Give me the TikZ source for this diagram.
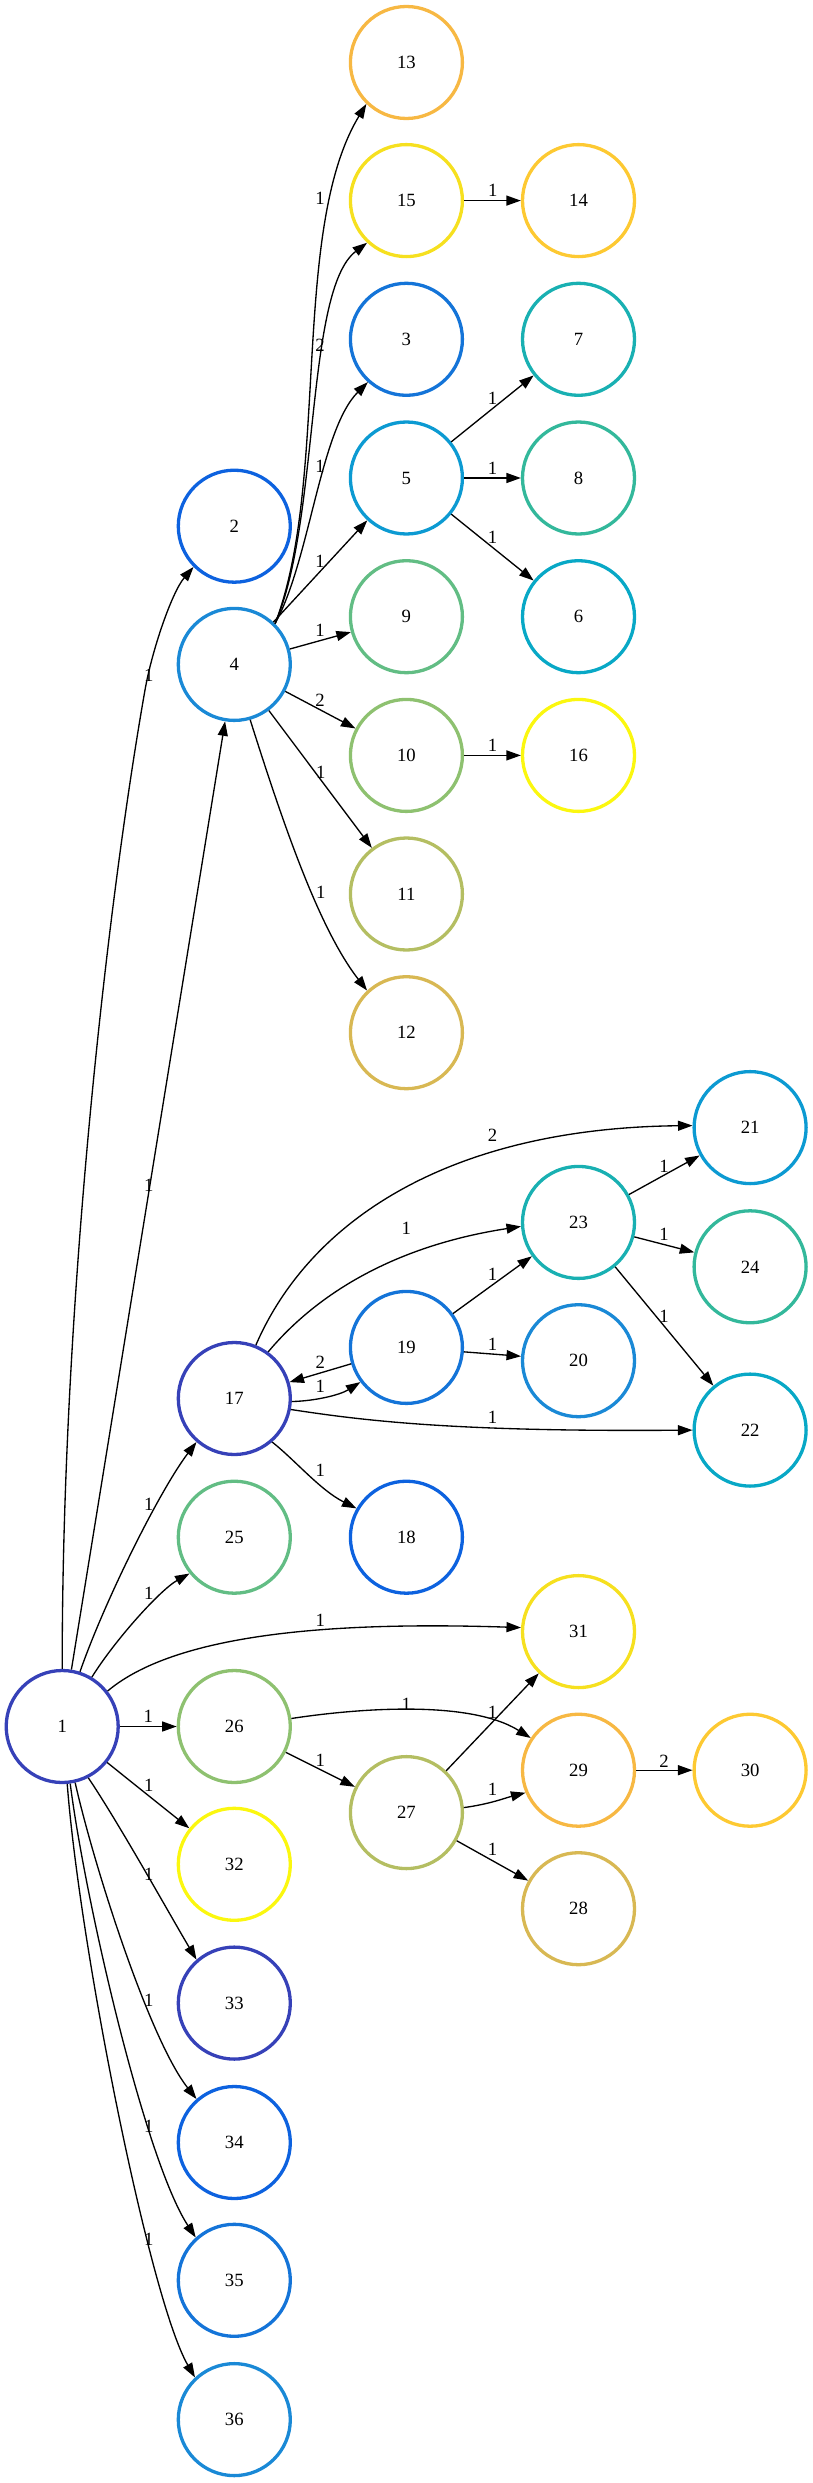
\documentclass[tikz,border=0pt]{standalone}
\usepackage{fontspec}
\setmainfont{Liberation Serif}
\usetikzlibrary{arrows.meta}

\begin{document}
\begin{tikzpicture}[x=1pt, y=-1pt,
    vertex/.style={circle, draw, line width=3.3pt, minimum size=112pt, inner sep=0pt, font=\fontsize{18.7}{20}\selectfont},
    edgeArrow/.style={line width=1.33pt, -{Triangle[length=14.5pt,width=10pt]}},
    edgeLabel/.style={inner sep=0pt, font=\fontsize{18.7}{20}\selectfont},
  ]

    % Colors
    \definecolor{c1}{HTML}{3641B8}
    \definecolor{c2}{HTML}{0D62DF}
    \definecolor{c3}{HTML}{1474D8}
    \definecolor{c4}{HTML}{1A89D6}
    \definecolor{c5}{HTML}{0C9AD2}
    \definecolor{c6}{HTML}{08A8C6}
    \definecolor{c7}{HTML}{19B0B2}
    \definecolor{c8}{HTML}{33B89B}
    \definecolor{c9}{HTML}{62BD84}
    \definecolor{c10}{HTML}{8EC170}
    \definecolor{c11}{HTML}{B4BE62}
    \definecolor{c12}{HTML}{D8B853}
    \definecolor{c13}{HTML}{F7B843}
    \definecolor{c14}{HTML}{FDC932}
    \definecolor{c15}{HTML}{F6E01F}
    \definecolor{c16}{HTML}{FBF70F}

    \useasboundingbox (0,0) rectangle (813,2483);

    %draw the vertices
    \node[vertex, draw=c1]  (n1)  at (62.2,1726.5) {1};
    \node[vertex, draw=c2]  (n2)  at (234.3,526.2)  {2};
    \node[vertex, draw=c3]  (n3)  at (406.4,339.3)  {3};
    \node[vertex, draw=c4]  (n4)  at (234.3,664.4)  {4};
    \node[vertex, draw=c5]  (n5)  at (406.4,478)    {5};
    \node[vertex, draw=c6]  (n6)  at (578.5,616.7)  {6};
    \node[vertex, draw=c7]  (n7)  at (578.5,339.3)  {7};
    \node[vertex, draw=c8]  (n8)  at (578.5,478)    {8};
    \node[vertex, draw=c9]  (n9)  at (406.4,616.7)  {9};
    \node[vertex, draw=c10] (n10) at (406.4,755.4)  {10};
    \node[vertex, draw=c11] (n11) at (406.4,894)    {11};
    \node[vertex, draw=c12] (n12) at (406.4,1032.7) {12};
    \node[vertex, draw=c13] (n13) at (406.4,62.5)   {13};
    \node[vertex, draw=c14] (n14) at (578.5,200.6)  {14};
    \node[vertex, draw=c15] (n15) at (406.4,200.6)  {15};
    \node[vertex, draw=c16] (n16) at (578.5,755.4)  {16};
    \node[vertex, draw=c1]  (n17) at (234.3,1398.5) {17};
    \node[vertex, draw=c2]  (n18) at (406.4,1537.2) {18};
    \node[vertex, draw=c3]  (n19) at (406.4,1347.4) {19};
    \node[vertex, draw=c4]  (n20) at (578.5,1360.7) {20};
    \node[vertex, draw=c5]  (n21) at (750.1,1127.6) {21};
    \node[vertex, draw=c6]  (n22) at (750.1,1430.1) {22};
    \node[vertex, draw=c7]  (n23) at (578.5,1222.4) {23};
    \node[vertex, draw=c8]  (n24) at (750.1,1266.8) {24};
    \node[vertex, draw=c9]  (n25) at (234.3,1537.2) {25};
    \node[vertex, draw=c10] (n26) at (234.3,1726.5) {26};
    \node[vertex, draw=c11] (n27) at (406.4,1812.6) {27};
    \node[vertex, draw=c12] (n28) at (578.5,1908.7) {28};
    \node[vertex, draw=c13] (n29) at (578.5,1770.2) {29};
    \node[vertex, draw=c14] (n30) at (750.1,1770.2) {30};
    \node[vertex, draw=c15] (n31) at (578.5,1631.6) {31};
    \node[vertex, draw=c16] (n32) at (234.3,1864.3) {32};
    \node[vertex, draw=c1]  (n33) at (234.3,2003.1) {33};
    \node[vertex, draw=c2]  (n34) at (234.3,2142.5) {34};
    \node[vertex, draw=c3]  (n35) at (234.3,2280.3) {35};
    \node[vertex, draw=c4]  (n36) at (234.3,2419.6) {36};

    %edges out of 1
    \draw[edgeArrow] (n1.90) .. controls (62,1300) and (108,900) .. (145,690) .. controls (152,650) and (172,592) .. (n2.225)
        node[edgeLabel] (l1-2) at (148.8,675) {1};
    \draw[edgeArrow] (n1) -- (n4) node[edgeLabel] (l1-4) at (148.8,1185) {1};
    \draw[edgeArrow] (n1.72) .. controls (105,1600) and (160,1490) .. (n17.229)
        node[edgeLabel] (l1-17) at (148.8,1504) {1};
    \draw[edgeArrow] (n1.59) .. controls (115,1640) and (160,1590) .. (n25.219)
        node[edgeLabel] (l1-25) at (148.8,1593) {1};
    \draw[edgeArrow] (n1.38) .. controls (180,1630) and (350,1622) .. (n31.176)
        node[edgeLabel] (l1-31) at (320.4,1620) {1};
    \draw[edgeArrow] (n1) -- (n26) node[edgeLabel] (l1-26) at (148.3,1716) {1};
    \draw[edgeArrow] (n1) -- (n32) node[edgeLabel] (l1-32) at (148.8,1785) {1};
    \draw[edgeArrow] (n1.297) .. controls (120,1825) and (170,1915) .. (n33.131)
        node[edgeLabel] (l1-33) at (148.8,1874) {1};
    \draw[edgeArrow] (n1.283) .. controls (95,1870) and (150,2040) .. (n34.131)
        node[edgeLabel] (l1-34) at (148.8,2000) {1};
    \draw[edgeArrow] (n1.278) .. controls (85,1900) and (145,2160) .. (n35.132)
        node[edgeLabel] (l1-35) at (148.8,2126) {1};
    \draw[edgeArrow] (n1.275) .. controls (80,1950) and (150,2300) .. (n36.133)
        node[edgeLabel] (l1-36) at (148.8,2239) {1};

    %edges out of 4
    \draw[edgeArrow] (n4.45) .. controls (330,480) and (290,230) .. (n13.226)
        node[edgeLabel] (l4-13) at (320,198.5) {1};
    \draw[edgeArrow] (n4.45) .. controls (320,520) and (305,290) .. (n15.227)
        node[edgeLabel] (l4-15) at (320,345) {2};
    \draw[edgeArrow] (n4.45) .. controls (310,560) and (320,430) .. (n3.228)
        node[edgeLabel] (l4-3) at (320,466) {1};
    \draw[edgeArrow] (n4) -- (n5) node[edgeLabel] (l4-5) at (320,561) {1};
    \draw[edgeArrow] (n4) -- (n9) node[edgeLabel] (l4-9) at (320,630) {1};
    \draw[edgeArrow] (n4) -- (n10) node[edgeLabel] (l4-10) at (320,700) {2};
    \draw[edgeArrow] (n4) -- (n11) node[edgeLabel] (l4-11) at (320.7,772) {1};
    \draw[edgeArrow] (n4.286) .. controls (285,830) and (320,930) .. (n12.133)
        node[edgeLabel] (l4-12) at (320.7,892) {1};

    %edges out of 15, 5 and 10
    \draw[edgeArrow] (n15) -- (n14) node[edgeLabel] (l15-14) at (492.7,190.7) {1};
    \draw[edgeArrow] (n5) -- (n7) node[edgeLabel] (l5-7) at (492.5,398) {1};
    \draw[edgeArrow] (n5) -- (n8) node[edgeLabel] (l5-8) at (492.5,468.5) {1};
    \draw[edgeArrow] (n5) -- (n6) node[edgeLabel] (l5-6) at (492.5,537) {1};
    \draw[edgeArrow] (n10) -- (n16) node[edgeLabel] (l10-16) at (492.5,745) {1};

    %edges out of 17 and 19
    \draw[edgeArrow] (n17.68) .. controls (310,1220) and (450,1128) .. (n21.178)
        node[edgeLabel] (l17-21) at (492.5,1135.7) {2};
    \draw[edgeArrow] (n17.54) .. controls (320,1290) and (400,1245) .. (n23.184)
        node[edgeLabel] (l17-23) at (406.4,1228.6) {1};
    \draw[edgeArrow] (n17.357) .. controls (315,1401) and (340,1395) .. (n19.217)
        node[edgeLabel] (l17-19) at (320.4,1386.7) {1};
    \draw[edgeArrow] (n19) -- (n17) node[edgeLabel] (l19-17) at (320.4,1362) {2};
    \draw[edgeArrow] (n17.349) .. controls (360,1420) and (450,1432) .. (n22.180)
        node[edgeLabel] (l17-22) at (492.5,1417.3) {1};
    \draw[edgeArrow] (n17.311) .. controls (295,1460) and (320,1490) .. (n18.150)
        node[edgeLabel] (l17-18) at (320.4,1470) {1};
    \draw[edgeArrow] (n19) -- (n23) node[edgeLabel] (l19-23) at (492.5,1274.5) {1};
    \draw[edgeArrow] (n19) -- (n20) node[edgeLabel] (l19-20) at (492.5,1344.4) {1};

    %edges out of 23
    \draw[edgeArrow] (n23) -- (n21) node[edgeLabel] (l23-21) at (664,1166.3) {1};
    \draw[edgeArrow] (n23) -- (n24) node[edgeLabel] (l23-24) at (664,1234.7) {1};
    \draw[edgeArrow] (n23) -- (n22) node[edgeLabel] (l23-22) at (664,1316.3) {1};

    %edges out of 26, 27 and 29
    \draw[edgeArrow] (n26.8) .. controls (360,1708) and (470,1700) .. (n29.146)
        node[edgeLabel] (l26-29) at (406.4,1704) {1};
    \draw[edgeArrow] (n26) -- (n27) node[edgeLabel] (l26-27) at (320.4,1760) {1};
    \draw[edgeArrow] (n27) -- (n31) node[edgeLabel] (l27-31) at (492.5,1712) {1};
    \draw[edgeArrow] (n27.5) .. controls (490,1804) and (505,1798) .. (n29.203)
        node[edgeLabel] (l27-29) at (492.5,1789.8) {1};
    \draw[edgeArrow] (n27) -- (n28) node[edgeLabel] (l27-28) at (492.5,1849.8) {1};
    \draw[edgeArrow] (n29) -- (n30) node[edgeLabel] (l29-30) at (664,1761) {2};

\end{tikzpicture}
\end{document}
